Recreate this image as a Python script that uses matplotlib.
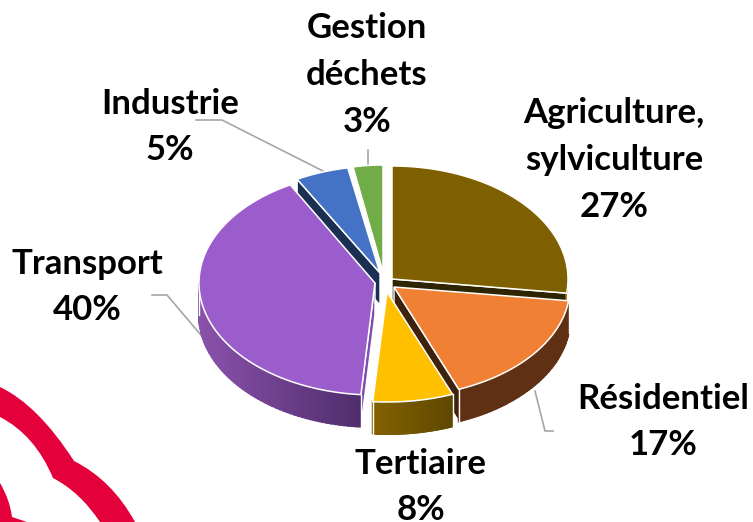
import numpy as np
import matplotlib
matplotlib.use("Agg")
import matplotlib.pyplot as plt
from matplotlib.patches import PathPatch
from matplotlib.path import Path
from matplotlib.colors import to_rgb

# --- data ---
categories = ["Agriculture,\nsylviculture", "Résidentiel", "Tertiaire", "Transport", "Industrie", "Gestion\ndéchets"]
values = [27, 17, 8, 40, 5, 3]

# --- styles ---
top_colors = ["#7f6000", "#f08033", "#ffc000", "#9c5dcc", "#4472c4", "#70ad47"]
wall_left = ["#7f6000", "#5f3013", "#836200", "#8a52ab", "#1a2f52", "#70ad47"]
wall_right = ["#7f6000", "#5f3013", "#5e4800", "#4f2c6c", "#1a2f52", "#70ad47"]
cut_colors = ["#2f2400", "#3f220c", None, "#7d4fb0", "#1a2f52", None]
cut_at_start = [False, False, False, True, True, False]
apex_x = [392, 394, 387, 375, 380, 383]
apex_y = [279, 287, 292, 283, 273, 272]
radius_x = [176, 176, 178, 176, 172, 160]
radius_y = [113, 110, 110, 112, 107, 107]
edge_nudge = [0, 0, 0, -2.6, 0, 0, 0]
depth = 32
draw_order = [5, 4, 0, 3, 1, 2]
label_x = [614, 663, 421, 87, 170, 367]
label_y = [160, 422, 487, 287, 127, 75]
leaders = {
    "Industrie": ([196, 222, 323], [120, 120, 171]),
    "Transport": ([152, 167, 206], [295, 295, 341]),
    "Résidentiel": ([535, 545, 553], [391, 431, 431]),
    "Gestion": ([368, 368], [150, 166]),
}

fig = plt.figure(figsize=(7.53, 5.22), dpi=100)
ax = fig.add_axes([0, 0, 1, 1])
ax.set_xlim(0, 753)
ax.set_ylim(522, 0)
ax.axis("off")

# decorative red outline, bottom-left corner
red = "#e4003a"
verts = [(0, 387), (38, 405), (74, 461), (112, 480), (135, 522), (100, 522),
         (80, 492), (53, 478), (35, 435), (0, 417), (0, 387)]
codes = [Path.MOVETO, Path.CURVE3, Path.CURVE3, Path.CURVE3, Path.CURVE3, Path.LINETO,
         Path.CURVE3, Path.CURVE3, Path.CURVE3, Path.CURVE3, Path.CLOSEPOLY]
ax.add_patch(PathPatch(Path(verts, codes), fc=red, ec="none", zorder=1))
verts2 = [(0, 483), (10, 500), (12, 517), (27, 522), (0, 522), (0, 483)]
codes2 = [Path.MOVETO, Path.CURVE3, Path.CURVE3, Path.LINETO, Path.LINETO, Path.CLOSEPOLY]
ax.add_patch(PathPatch(Path(verts2, codes2), fc=red, ec="none", zorder=1))

# leader lines
for xs, ys in leaders.values():
    ax.plot(xs, ys, color="#a6a6a6", lw=1.2, zorder=1.5, solid_joinstyle="miter")

# slice boundaries derived from the values
shares = np.cumsum([0] + values) / sum(values)
bounds = shares * 360 + np.array(edge_nudge)


def pt(i, theta):
    t = np.radians(theta)
    return (apex_x[i] + radius_x[i] * np.sin(t), apex_y[i] - radius_y[i] * np.cos(t))


z = 2.0
for i in draw_order:
    a0, a1 = bounds[i], bounds[i + 1]
    ths = np.linspace(a0, a1, 120)
    xs, ys = pt(i, ths)
    # cut face
    if cut_colors[i] is not None:
        th = a0 if cut_at_start[i] else a1
        ex, ey = pt(i, th)
        ax.fill([apex_x[i], ex, ex, apex_x[i]],
                [apex_y[i], ey, ey + depth, apex_y[i] + depth],
                fc=cut_colors[i], ec="white", lw=1.0, zorder=z, joinstyle="miter")
        z += 0.01
    # outer wall (front half only), shaded along the arc
    lo, hi = max(a0, 90), min(a1, 270)
    if hi > lo:
        n = 60
        wt = np.linspace(lo, hi, n + 1)
        wx, wy = pt(i, wt)
        xmin, xmax = wx.min(), wx.max()
        c0, c1 = np.array(to_rgb(wall_left[i])), np.array(to_rgb(wall_right[i]))
        for k in range(n):
            f = ((wx[k] + wx[k + 1]) / 2 - xmin) / max(xmax - xmin, 1)
            col = c0 + (c1 - c0) * f
            ax.fill([wx[k], wx[k + 1], wx[k + 1], wx[k]],
                    [wy[k], wy[k + 1], wy[k + 1] + depth, wy[k] + depth],
                    fc=col, ec=col, lw=1.4, zorder=z)
        z += 0.01
        ax.plot([wx[0], wx[0]], [wy[0], wy[0] + depth], color="white", lw=1.0, zorder=z)
        ax.plot([wx[-1], wx[-1]], [wy[-1], wy[-1] + depth], color="white", lw=1.0, zorder=z)
        z += 0.01
    # top face
    ax.fill(np.r_[apex_x[i], xs], np.r_[apex_y[i], ys], fc=top_colors[i], ec="white",
            lw=1.1, zorder=z, joinstyle="miter")
    z += 0.01

# labels
for name, v, x, y in zip(categories, values, label_x, label_y):
    ax.text(x, y, f"{name}\n{v}%", ha="center", va="center", multialignment="center",
            family="Lato", weight="bold", fontsize=25, color="black",
            linespacing=1.56, zorder=10)

fig.savefig("out.png", dpi=100, facecolor="white")
